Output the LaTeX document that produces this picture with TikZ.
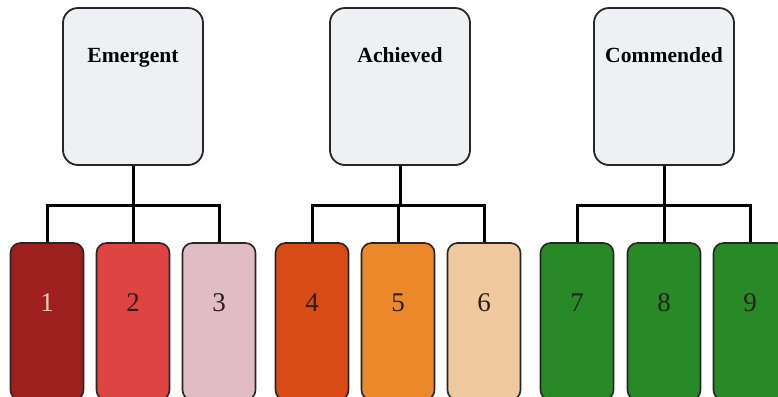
\documentclass[tikz,border=0pt]{standalone}
\usepackage{fontspec}
\setmainfont{Liberation Serif}
\usepackage{tikz}

\definecolor{topgray}{RGB}{238,240,244}
\definecolor{redA}{RGB}{158,32,30}
\definecolor{redB}{RGB}{222,68,66}
\definecolor{redC}{RGB}{226,188,196}
\definecolor{orgA}{RGB}{216,74,22}
\definecolor{orgB}{RGB}{234,136,42}
\definecolor{orgC}{RGB}{240,200,158}
\definecolor{grnA}{RGB}{40,138,38}
\definecolor{numlight}{RGB}{238,205,205}
\definecolor{numdark}{RGB}{40,32,28}

\begin{document}
\begin{tikzpicture}[x=0.5pt,y=-0.5pt,
	level/.style={draw=black!85, line width=0.9pt, rounded corners=7.5pt, fill=topgray,
		minimum width=70pt, inner sep=0pt, text height=27pt, text depth=51.5pt,
		font=\bfseries\fontsize{10.8}{12}\selectfont},
	grade/.style={draw=black!85, line width=0.8pt, rounded corners=5pt,
		minimum width=36.5pt, inner sep=0pt, text height=34pt, text depth=44.5pt,
		font=\fontsize{13.5}{15}\selectfont},
	link/.style={line width=1.5pt}]
	\useasboundingbox (0,0) rectangle (778,397);
	\node[level] (em) at (133,86.5) {Emergent};
	\node[level] (ach) at (400,86.5) {Achieved};
	\node[level] (com) at (664,86.5) {Commended};
	\foreach \n/\x/\c/\t in {1/47/redA/numlight, 2/133/redB/numdark, 3/219/redC/numdark,
		4/312/orgA/numdark, 5/398/orgB/numdark, 6/484/orgC/numdark,
		7/577/grnA/numdark, 8/664/grnA/numdark, 9/750/grnA/numdark}
	{
		\node[grade, fill=\c, text=\t] (g\n) at (\x,321.5) {\n};
	}
	\coordinate (bar) at (0,205);
	\foreach \p/\a/\b/\c in {em/1/2/3, ach/4/5/6, com/7/8/9}
	{
		\draw[link] (\p.south) -- (\p.south |- bar);
		\draw[link] (g\a.north) -- (g\a.north |- bar) -- (g\c.north |- bar) -- (g\c.north);
		\draw[link] (g\b.north) -- (g\b.north |- bar);
	}
\end{tikzpicture}
\end{document}
